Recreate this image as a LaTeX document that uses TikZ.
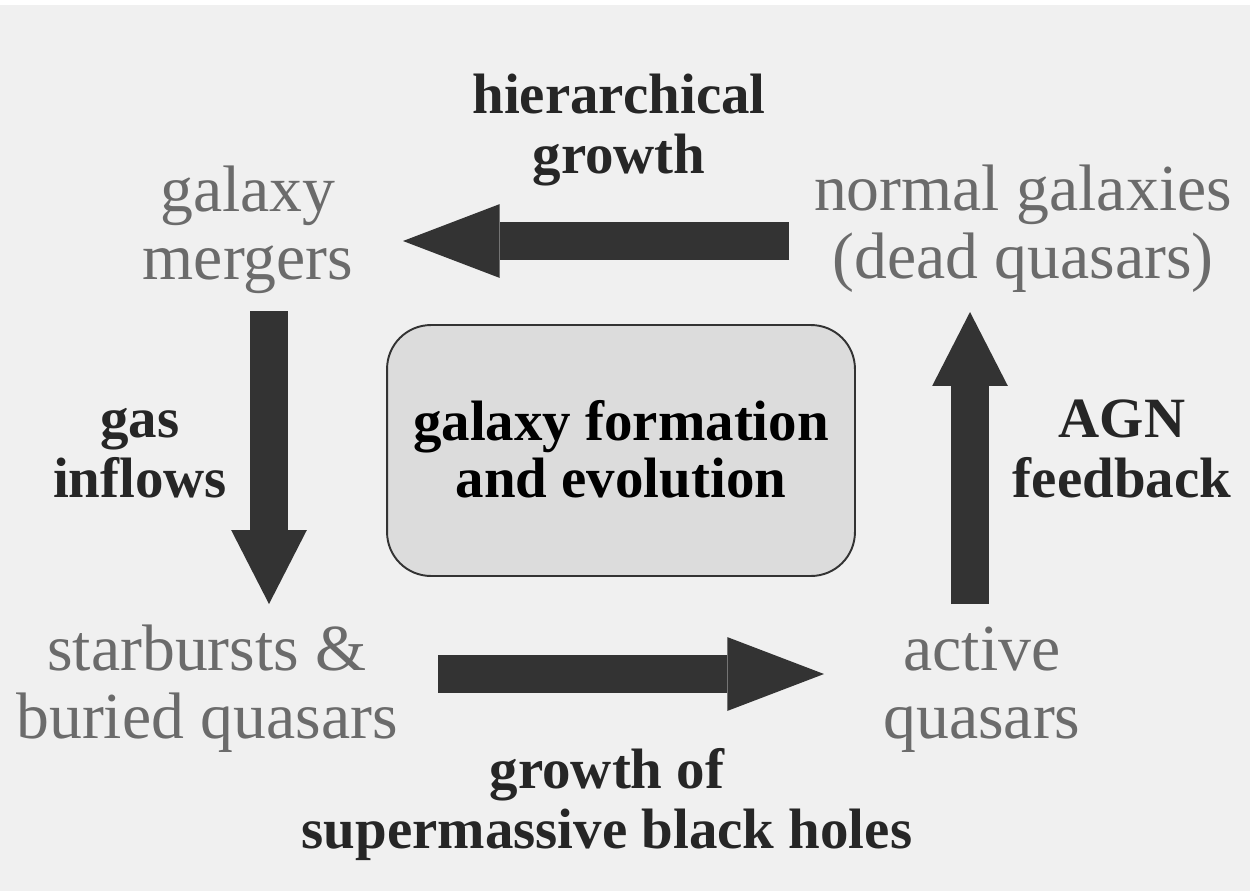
\documentclass[tikz,border=0pt]{standalone}
\usepackage{fontspec}
\setmainfont{Liberation Serif}
\usetikzlibrary{arrows.meta}
\definecolor{bgcol}{HTML}{F0F0F0}
\definecolor{arrcol}{HTML}{333333}
\definecolor{graytext}{HTML}{6B6B6B}
\definecolor{labeltext}{HTML}{262626}
\definecolor{boxfill}{HTML}{DCDCDC}
\begin{document}
\begin{tikzpicture}[x=0.02cm,y=-0.02cm,
  stage/.style={inner sep=0pt, align=center, anchor=base, text=graytext,
    font=\fontsize{37.4}{38.6}\selectfont},
  lbl/.style={inner sep=0pt, align=center, anchor=base, text=labeltext,
    font=\fontsize{32.4}{34}\selectfont\bfseries},
  hflow/.style={draw=arrcol, line width=21.5pt,
    -{Triangle[width=42pt,length=55pt,line width=0pt]}},
  vflow/.style={draw=arrcol, line width=21.8pt,
    -{Triangle[width=43pt,length=42pt,line width=0pt]}},
  centerbox/.style={draw=arrcol, line width=1.1pt, fill=boxfill, rounded corners=25pt,
    minimum width=9.36cm, minimum height=5.02cm, inner sep=0pt, align=center,
    font=\fontsize{32.4}{34}\selectfont\bfseries}
]
\useasboundingbox (0,0) rectangle (1250,893);
\fill[white] (0,0) rectangle (1250,893);
\fill[bgcol] (0,5) rectangle (1250,891);

% stages (anchor = baseline of last line)
\node[stage] (mergers) at (248,279) {galaxy\\mergers};
\node[stage] (normal) at (1023,278) {normal galaxies\\(dead quasars)};
\node[stage] (starburst) at (207,738) {starbursts \&\\buried quasars};
\node[stage] (active) at (982,738) {active\\quasars};

% labels
\node[lbl] (hier) at (619,173) {hierarchical\\growth};
\node[lbl] (gas) at (140,497) {gas\\inflows};
\node[lbl] (agn) at (1122,497) {AGN\\feedback};
\node[lbl] (smbh) at (607,848) {growth of\\supermassive black holes};

% center box
\node[centerbox] (core) at (621,450.5) {\raisebox{2pt}{\shortstack{galaxy formation\\and evolution}}};

% arrow end points
\coordinate (topS) at (789,241);
\coordinate (topE) at (403,241);
\coordinate (leftS) at (269,311);
\coordinate (leftE) at (269,604);
\coordinate (botS) at (438,674);
\coordinate (botE) at (824,674);
\coordinate (rightS) at (970,604);
\coordinate (rightE) at (970,312);

\draw[hflow] (topS) -- (topE);
\draw[vflow] (leftS) -- (leftE);
\draw[hflow] (botS) -- (botE);
\draw[vflow] (rightS) -- (rightE);
\end{tikzpicture}
\end{document}
